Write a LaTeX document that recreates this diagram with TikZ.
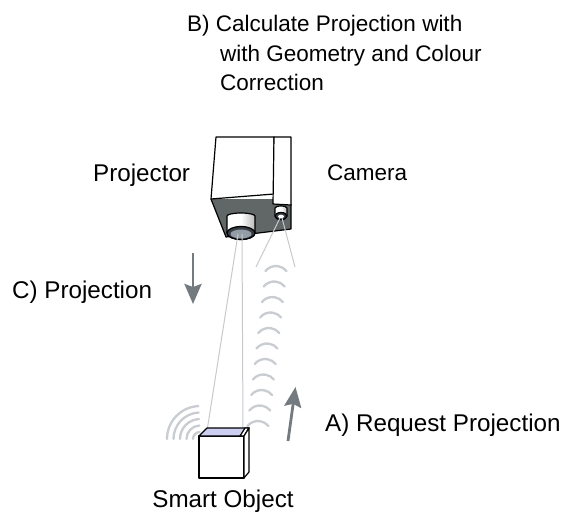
\documentclass[tikz,border=0pt]{standalone}
\usepackage{fontspec}
\setmainfont{Liberation Sans}
\usetikzlibrary{arrows.meta, calc}
\definecolor{bodydark}{rgb}{0.38, 0.40, 0.40}
\definecolor{raycol}{rgb}{0.78, 0.79, 0.81}
\definecolor{wavecol}{rgb}{0.79, 0.80, 0.82}
\definecolor{arrowcol}{rgb}{0.45, 0.48, 0.50}
\definecolor{screencol}{rgb}{0.80, 0.81, 0.94}
\definecolor{lensdark}{rgb}{0.22, 0.24, 0.27}
\definecolor{lensglass}{rgb}{0.58, 0.61, 0.65}
\tikzset{
  lbl/.style={font=\fontsize{24.2}{29.5}\selectfont, inner sep=0pt,
              anchor=base west},
  small lbl/.style={lbl, font=\fontsize{22.5}{29.5}\selectfont},
  outline/.style={draw=black, line width=1.2pt, line join=round},
  ray/.style={draw=raycol, line width=1pt},
  wave/.style={draw=wavecol, line width=2.3pt, line cap=round},
  flow arr/.style={-{Stealth[length=20pt, width=17pt, inset=3pt]},
                   line width=2.8pt, arrowcol},
}

\begin{document}
\begin{tikzpicture}[x=1pt, y=-1pt]
    \useasboundingbox (0,0) rectangle (563,512);

    % labels
    \node[small lbl] (calc lbl) at (187,31.7) {\begin{tabular}[t]{@{}l@{}}
        B) Calculate Projection with\\
        \hspace*{33pt}with Geometry and Colour\\
        \hspace*{33pt}Correction\end{tabular}};
    \node[lbl] (projector lbl) at (93,181) {Projector};
    \node[small lbl] (camera lbl) at (327,180) {Camera};
    \node[lbl] (proj lbl) at (12,298) {C) Projection};
    \node[lbl] (req lbl) at (325,431.5) {A) Request Projection};
    \node[lbl, anchor=base] (object lbl) at (223,507.5) {Smart Object};

    % signal waves
    \foreach \i in {0,...,10}
        \draw[wave] ({276-1.8*\i-10.5},{266+15.5*\i+5})
            arc[start angle=141, end angle=39, radius=13.5pt];
    \foreach \r in {7,13.5,20,26.5,33}
        \draw[wave] ({200-\r},439) arc[start angle=180, end angle=93, radius=\r pt];

    % projector housing
    \fill[bodydark] (211,199) -- (291,199) -- (291,229) -- (226,237) -- cycle;
    \draw[outline] (211,199) -- (226,237) -- (291,229) -- (291,204);
    \filldraw[outline, fill=white] (216,137) -- (274,137) -- (274,194) -- (211,199) -- cycle;
    \filldraw[outline, fill=white] (274,137) -- (291,137) -- (291,205) -- (273,204) -- cycle;

    % projector lens
    \filldraw[outline, left color=white, right color=gray!55, middle color=white]
        (227,216) -- (227,233) arc[start angle=180, end angle=360, x radius=14pt, y radius=6.5pt]
        -- (255,216) arc[start angle=0, end angle=180, x radius=14pt, y radius=3pt] -- cycle;
    \filldraw[outline, fill=lensdark] (241,233) ellipse[x radius=14pt, y radius=6.5pt];
    \fill[lensglass] (241,234) ellipse[x radius=10.5pt, y radius=4.5pt];

    % camera lens
    \filldraw[outline, left color=white, right color=gray!55, middle color=white]
        (275,208) -- (275,216) arc[start angle=180, end angle=360, x radius=6pt, y radius=3.5pt]
        -- (287,208) arc[start angle=0, end angle=180, x radius=6pt, y radius=2pt] -- cycle;
    \filldraw[outline, fill=lensdark] (281,216) ellipse[x radius=6pt, y radius=3.5pt];
    \fill[white] (281,216.5) ellipse[x radius=3pt, y radius=1.8pt];

    % rays
    \coordinate (plens a) at (238,234);
    \coordinate (plens b) at (242,234);
    \coordinate (scr a) at (207,431);
    \coordinate (scr b) at (243,431);
    \coordinate (cam a) at (280,218);
    \coordinate (cam b) at (282,218);
    \coordinate (view a) at (256,267);
    \coordinate (view b) at (295,267);
    \draw[ray] (plens a) -- (scr a);
    \draw[ray] (plens b) -- (scr b);
    \draw[ray] (cam a) -- (view a);
    \draw[ray] (cam b) -- (view b);

    % smart object
    \filldraw[outline, fill=white] (199,436) rectangle (244,478);
    \filldraw[outline, fill=screencol] (199,436) -- (207,428) -- (249,428) -- (244,436) -- cycle;
    \filldraw[outline, fill=white] (240,436) -- (245,428) -- (249,428) -- (244,436) -- cycle;
    \filldraw[outline, fill=white] (244,436) -- (249,428) -- (249,472) -- (244,478) -- cycle;

    % flow arrows
    \coordinate (proj arr s) at (193,253);
    \coordinate (proj arr e) at (193,304);
    \coordinate (req arr s) at (288,441);
    \coordinate (req arr e) at (295.5,387);
    \draw[flow arr] (proj arr s) -- (proj arr e);
    \draw[flow arr] (req arr s) -- (req arr e);
\end{tikzpicture}
\end{document}
